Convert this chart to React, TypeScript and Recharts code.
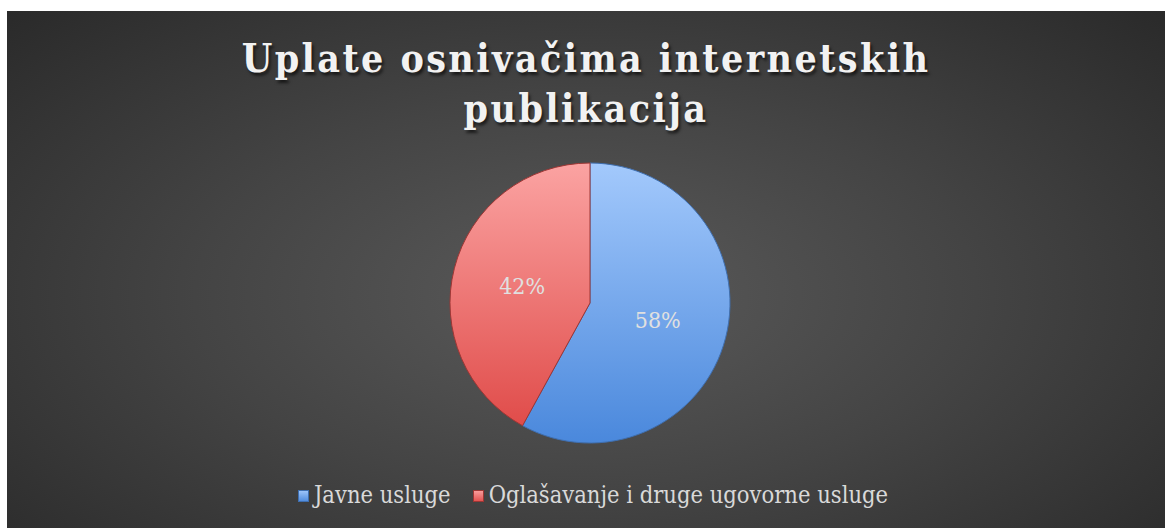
import { Cell, Legend, Pie, PieChart } from 'recharts'

const categories = ['Javne usluge', 'Oglašavanje i druge ugovorne usluge']
const shares = [58, 42]

const sliceTop = ['#a3c9fc', '#fba3a2']
const sliceBottom = ['#4a88dc', '#e04c4a']
const sliceEdge = ['#3f6fb0', '#9e3634']

const data = categories.map((name, i) => ({ name, value: shares[i] }))

const FONT = '"DejaVu Serif Condensed", "DejaVu Serif", serif'
const RAD = Math.PI / 180

function renderLabel(props: any) {
  const { cx, cy, midAngle, value } = props
  const r = 70
  const x = cx + r * Math.cos(-midAngle * RAD)
  const y = cy + r * Math.sin(-midAngle * RAD)
  return (
    <text
      x={x}
      y={y}
      fill='#e0e0e0'
      fontSize={23}
      fontFamily={FONT}
      textAnchor='middle'
      dominantBaseline='central'
    >
      {`${value}%`}
    </text>
  )
}

function renderLegend() {
  return (
    <div
      style={{
        display: 'flex',
        justifyContent: 'center',
        gap: 22,
        paddingLeft: 14,
        fontFamily: FONT,
        fontSize: 23.5,
        color: '#d9d9d9',
      }}
    >
      {categories.map((name, i) => (
        <span key={name} style={{ display: 'flex', alignItems: 'center' }}>
          <span
            style={{
              display: 'inline-block',
              flexShrink: 0,
              width: 11,
              height: 12,
              marginRight: 5,
              marginTop: 2,
              background: `linear-gradient(${sliceTop[i]}, ${sliceBottom[i]})`,
              boxShadow: `inset 0 0 0 1px ${sliceEdge[i]}`,
            }}
          />
          {name}
        </span>
      ))}
    </div>
  )
}

export default function App() {
  return (
    <div
      style={{
        position: 'absolute',
        left: 7,
        top: 11,
        width: 1158,
        height: 517,
        background:
          'radial-gradient(ellipse 75% 85% at 50% 55%, #5a5a5a 0%, #444 45%, #262626 100%)',
        overflow: 'hidden',
      }}
    >
      <div
        style={{
          position: 'absolute',
          top: 22,
          left: 0,
          width: 1158,
          textAlign: 'center',
          fontFamily: FONT,
          fontWeight: 'bold',
          fontSize: 39,
          lineHeight: '50px',
          letterSpacing: 2.4,
          color: '#f2f2f2',
          textShadow: '2px 3px 3px rgba(0,0,0,0.6)',
        }}
      >
        Uplate osnivačima internetskih
        <br />
        publikacija
      </div>
      <PieChart width={1158} height={517} margin={{ top: 0, right: 0, bottom: 0, left: 0 }}>
        <defs>
          {categories.map((name, i) => (
            <linearGradient key={name} id={`slice${i}`} x1='0' y1='0' x2='0' y2='1'>
              <stop offset='0%' stopColor={sliceTop[i]} />
              <stop offset='100%' stopColor={sliceBottom[i]} />
            </linearGradient>
          ))}
        </defs>
        <Pie
          data={data}
          dataKey='value'
          nameKey='name'
          cx={583}
          cy={292}
          outerRadius={140}
          startAngle={90}
          endAngle={-270}
          label={renderLabel}
          labelLine={false}
          isAnimationActive={false}
        >
          {data.map((d, i) => (
            <Cell key={d.name} fill={`url(#slice${i})`} stroke={sliceEdge[i]} strokeWidth={1} />
          ))}
        </Pie>
        <Legend
          content={renderLegend}
          wrapperStyle={{ top: 470, left: 0, width: 1158 }}
        />
      </PieChart>
    </div>
  )
}
